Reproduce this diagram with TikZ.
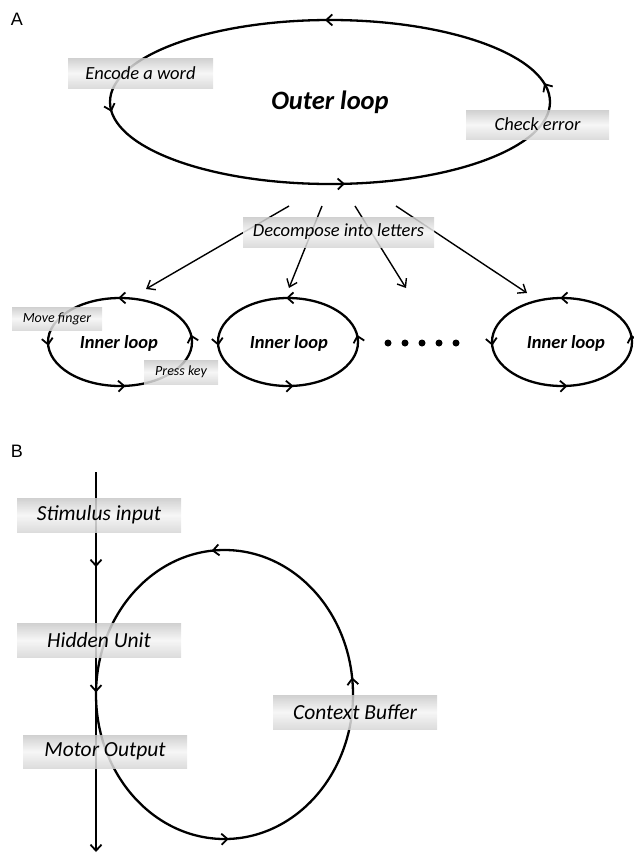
\documentclass[tikz,border=0pt]{standalone}
\usepackage{fontspec}
\setmainfont{Carlito}
\newfontfamily\panelfont{Liberation Sans}
\usetikzlibrary{arrows.meta,decorations.markings}

\begin{document}
\begin{tikzpicture}[x=1pt, y=-1pt,
    barb/.tip={Straight Barb[length=6pt, width=11pt, line width=1.8pt]},
    thinbarb/.tip={Straight Barb[length=7pt, width=11pt, line width=1.4pt]},
    loopline/.style={line width=2.3pt},
    fourway/.style={loopline, postaction={decorate}, decoration={markings,
      mark=at position 0.02 with {\arrow{barb}},
      mark=at position 0.255 with {\arrow{barb}},
      mark=at position 0.51 with {\arrow{barb}},
      mark=at position 0.765 with {\arrow{barb}}}},
    greybox/.style={shading=axis, top color=gray!43, bottom color=gray!32,
      middle color=gray!8, fill opacity=0.85, text opacity=1, inner sep=0pt},
    biglabel/.style={greybox, font=\fontsize{18.5}{22}\selectfont\itshape},
    smalllabel/.style={greybox, font=\fontsize{14}{17}\selectfont\itshape},
    blabel/.style={greybox, minimum width=164pt, minimum height=34pt,
      font=\fontsize{21.5}{26}\selectfont\itshape},
    looptext/.style={font=\fontsize{18.5}{22}\selectfont\bfseries\itshape}
  ]
  \useasboundingbox (0,0) rectangle (633,854);

  % panel A
  \node[font=\fontsize{18}{20}\panelfont] (pa) at (17,19) {A};
  \node[font=\fontsize{26.5}{30}\selectfont\bfseries\itshape] (outer) at (330,102) {Outer loop};
  \draw[fourway] (outer) ellipse [x radius=220pt, y radius=82pt];

  \node[looptext] (in1) at (119,343) {Inner loop};
  \node[looptext] (in2) at (289,343) {Inner loop};
  \node[looptext] (in3) at (566,343) {Inner loop};
  \draw[fourway] (120,342) ellipse [x radius=72pt, y radius=44pt];
  \draw[fourway] (288,342) ellipse [x radius=70pt, y radius=44pt];
  \draw[fourway] (562,342) ellipse [x radius=70pt, y radius=44pt];

  \foreach \i in {0,...,4}
    \fill (388+17*\i, 343) circle [radius=3.5pt];

  \coordinate (s1) at (289,206);
  \coordinate (s2) at (322,206);
  \coordinate (s3) at (355,206);
  \coordinate (s4) at (396,206);
  \coordinate (t1) at (146,289);
  \coordinate (t2) at (289,288);
  \coordinate (t3) at (406,288);
  \coordinate (t4) at (527,293);
  \draw[line width=1.4pt]
    (s1) edge[-thinbarb] (t1)
    (s2) edge[-thinbarb] (t2)
    (s3) edge[-thinbarb] (t3)
    (s4) edge[-thinbarb] (t4)
  ;

  \node[biglabel, minimum width=145pt, minimum height=30pt] (enc) at (140.5,73) {Encode a word};
  \node[biglabel, minimum width=143pt, minimum height=29pt] (chk) at (537.5,124.5) {Check error};
  \node[biglabel, minimum width=191pt, minimum height=30pt] (dec) at (338.5,232) {Decompose into letters};
  \node[smalllabel, minimum width=90pt, minimum height=23pt] (mvf) at (57,318.5) {Move finger};
  \node[smalllabel, minimum width=74pt, minimum height=24pt] (prk) at (181,372) {Press key};

  % panel B
  \node[font=\fontsize{18}{20}\panelfont] (pb) at (17,451) {B};
  \coordinate (bc) at (224.5,694.5);
  \draw[loopline, postaction={decorate}, decoration={markings,
      mark=at position 0.02 with {\arrow{barb}},
      mark=at position 0.265 with {\arrow{barb}},
      mark=at position 0.755 with {\arrow{barb}}}]
    (bc) ellipse [x radius=128.5pt, y radius=144.5pt];

  \coordinate (top) at (96,472);
  \coordinate (bot) at (96,852);
  \draw[loopline, -barb, postaction={decorate}, decoration={markings,
      mark=at position 0.25 with {\arrow{barb}},
      mark=at position 0.58 with {\arrow{barb}}}]
    (top) -- (bot);

  \node[blabel] (stim) at (99,515) {Stimulus input};
  \node[blabel] (hid) at (99,640) {Hidden Unit};
  \node[blabel, minimum height=33pt] (mot) at (105,751.5) {Motor Output};
  \node[blabel] (ctx) at (355,712) {Context Buffer};
\end{tikzpicture}
\end{document}
